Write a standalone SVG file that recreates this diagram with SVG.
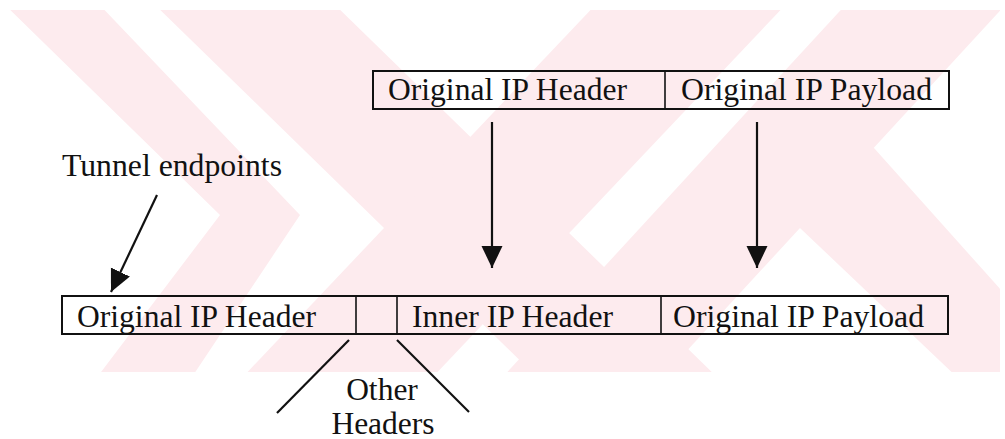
<svg xmlns="http://www.w3.org/2000/svg" width="1005" height="439" viewBox="0 0 1005 439">
  <style>
    .lbl { font-family: "Liberation Serif", "Times New Roman", serif; font-size: 31.5px; fill: #111; }
    .box { fill: none; stroke: #111; stroke-width: 2; }
    .div { stroke: #111; stroke-width: 1.6; }
    .conn { stroke: #111; stroke-width: 2.2; fill: none; }
    .wm { fill: #fdebee; }
  </style>
  <defs>
    <marker id="head" markerUnits="userSpaceOnUse" markerWidth="23" markerHeight="22" refX="22" refY="10.5" orient="auto">
      <path d="M0,0 L22,10.5 L0,21 Z" fill="#111"/>
    </marker>
    <clipPath id="wmclip">
      <rect x="10" y="10" width="990" height="362"/>
    </clipPath>
  </defs>

  <rect width="1005" height="439" fill="#ffffff"/>

  <!-- background emblem: pale diagonal bands -->
  <g id="emblem" clip-path="url(#wmclip)">
    <polygon class="wm" points="0,0 95,0 300,215 190,380 95,380 220,215"/>
    <polygon class="wm" points="150,0 330,0 720,380 540,380"/>
    <polygon class="wm" points="600,0 790,0 430,380 240,380"/>
    <polygon class="wm" points="850,0 1010,0 660,380 500,380"/>
    <polygon class="wm" points="760,190 840,110 1010,300 1010,380 960,380"/>
  </g>

  <!-- top packet -->
  <g id="orig-packet">
    <rect class="box" x="373" y="71" width="576" height="38"/>
    <line class="div" x1="665" y1="71" x2="665" y2="109"/>
    <text class="lbl" x="388" y="100" textLength="239" lengthAdjust="spacingAndGlyphs">Original IP Header</text>
    <text class="lbl" x="681" y="100" textLength="251" lengthAdjust="spacingAndGlyphs">Original IP Payload</text>
  </g>

  <!-- encapsulated packet -->
  <g id="tunnel-packet">
    <rect class="box" x="62" y="296" width="886" height="38"/>
    <line class="div" x1="356" y1="296" x2="356" y2="334"/>
    <line class="div" x1="397" y1="296" x2="397" y2="334"/>
    <line class="div" x1="661" y1="296" x2="661" y2="334"/>
    <text class="lbl" x="77" y="327" textLength="239" lengthAdjust="spacingAndGlyphs">Original IP Header</text>
    <text class="lbl" x="412" y="327" textLength="201" lengthAdjust="spacingAndGlyphs">Inner IP Header</text>
    <text class="lbl" x="673" y="327" textLength="251" lengthAdjust="spacingAndGlyphs">Original IP Payload</text>
  </g>

  <g id="tunnel-label">
    <text class="lbl" x="62" y="176" textLength="220" lengthAdjust="spacingAndGlyphs">Tunnel endpoints</text>
  </g>

  <g id="other-label">
    <text class="lbl" x="382" y="400" text-anchor="middle">Other</text>
    <text class="lbl" x="383" y="434" text-anchor="middle">Headers</text>
  </g>

  <!-- connectors -->
  <g id="connectors">
    <line class="conn" x1="492" y1="122" x2="492" y2="268" marker-end="url(#head)"/>
    <line class="conn" x1="757" y1="122" x2="757" y2="268" marker-end="url(#head)"/>
    <line class="conn" x1="157" y1="195" x2="111" y2="292" marker-end="url(#head)"/>
    <line class="conn" x1="349" y1="340" x2="277" y2="413"/>
    <line class="conn" x1="397" y1="340" x2="469" y2="412"/>
  </g>
</svg>
